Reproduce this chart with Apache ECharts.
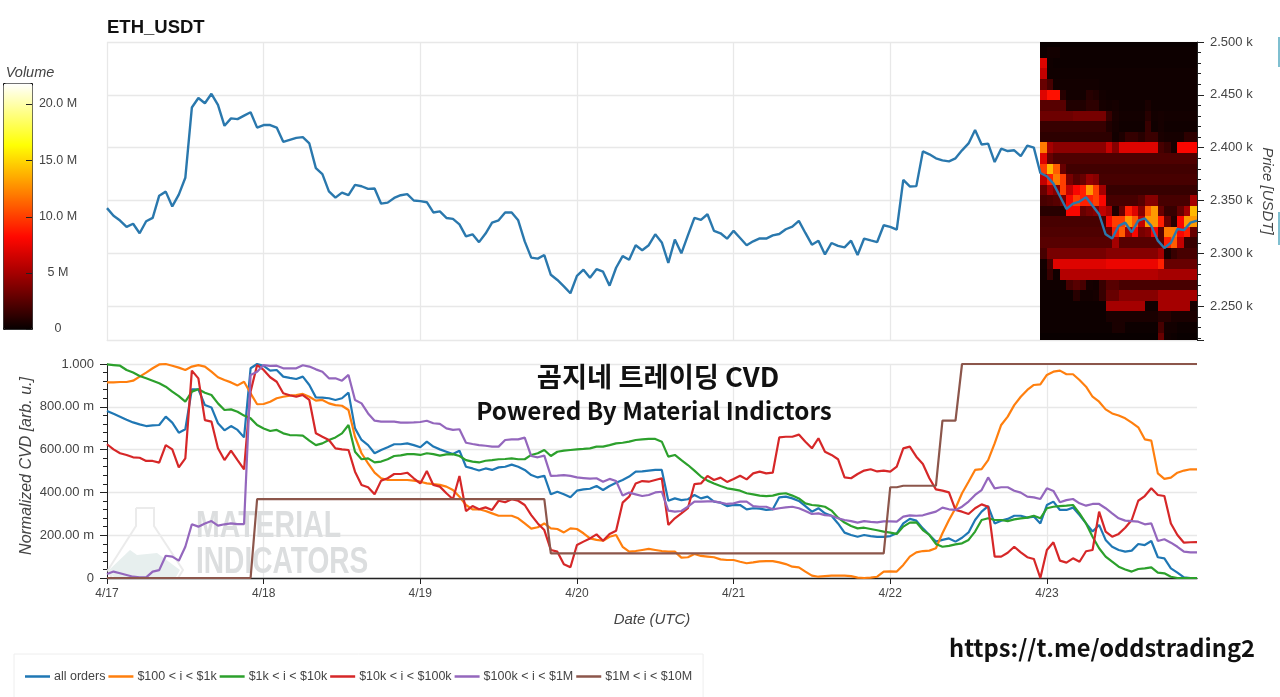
<!DOCTYPE html>
<html><head><meta charset="utf-8">
<style>html,body{margin:0;padding:0;background:#fff}#c{width:1280px;height:697px}</style>
<script src="https://cdn.jsdelivr.net/npm/echarts@6/dist/echarts.min.js"></script>
</head><body><div id="c"></div>
<script>
// Hourly samples, starting at 4/17 00:00 UTC
const dateTicks = ['4/17','4/18','4/19','4/20','4/21','4/22','4/23'];
const dateTickHours = [0,24,48,72,96,120,144];
const priceTickValues = [2250,2300,2350,2400,2450,2500];
const priceTickLabels = ['2.250 k','2.300 k','2.350 k','2.400 k','2.450 k','2.500 k'];
const cvdTickValues = [0,0.2,0.4,0.6,0.8,1];
const cvdTickLabels = ['0','200.00 m','400.00 m','600.00 m','800.00 m','1.000'];
const volumeTickValues = [0,5,10,15,20];
const volumeTickLabels = ['0','5 M','10.0 M','15.0 M','20.0 M'];
const legendNames = ['all orders','$100 < i < $1k','$1k < i < $10k','$10k < i < $100k','$100k < i < $1M','$1M < i < $10M'];

const price = [2342.8,2335.5,2331,2325,2328,2319,2330.4,2333.6,2354.6,2358.4,2344.4,2355.6,2371.5,2438,2447,2442,2451,2440.5,2420.7,2427.7,2427,2430.3,2433.5,2419,2421.4,2421.4,2419,2405.5,2407.4,2409.3,2410,2404,2380.7,2375,2358.7,2352.7,2357.5,2355,2364.8,2363.5,2361,2361.3,2347,2348,2352.4,2355,2356,2350,
2349.4,2348.4,2338.7,2339.7,2333.5,2332.6,2327.4,2316,2318,2310.6,2318.7,2329,2331.3,2338.7,2338.7,2331.3,2311.3,2296,2295,2298.4,2279.7,2274.8,2268.7,2262.2,2278.7,2284.5,2277,2285,2282.6,2269.4,2286.4,2297.4,2294,2307.7,2303,2307.7,2318,2310.3,2291,2313,2300,2317,2333.5,2331.6,2337,2321.3,2319,2313.9,2321.3,2314.5,2307.7,
2311.4,2314.2,2314,2317,2318.3,2322.8,2325.3,2330.7,2319.3,2308.2,2312,2299,2309.8,2307,2305.7,2312,2298.4,2314,2312.3,2310.7,2326.6,2325,2322.5,2369.6,2363.3,2363.6,2396.5,2393.7,2389.9,2388,2387,2389.9,2397.5,2404,2416.8,2403,2403.8,2386.4,2399,2396.8,2397.5,2392,2402,2400,2376,
2373,2366,2354,2342,2347,2349,2353,2345,2337,2318,2314,2326,2329,2320,2331,2333,2326,2312,2305,2310,2323,2322,2329,2331];

const cvdAll = [.780,.767,.754,.740,.727,.718,.710,.713,.715,.754,.726,.679,.695,.882,.882,.808,.797,.723,.690,.710,.692,.657,.980,1,.991,.969,.972,.941,.935,.930,.941,.902,.844,.843,.840,.832,.840,.866,.699,.645,.621,.583,.598,.611,.625,.625,.629,.621,
.611,.637,.614,.601,.590,.579,.595,.520,.512,.502,.512,.505,.517,.520,.530,.520,.505,.481,.470,.478,.391,.403,.391,.377,.408,.414,.417,.430,.411,.430,.445,.458,.474,.497,.498,.502,.505,.505,.361,.372,.364,.368,.388,.372,.380,.357,.352,.336,.341,.341,.321,.326,.324,.318,.321,.377,.380,.372,.36,.336,
.310,.326,.302,.291,.255,.212,.201,.193,.201,.196,.192,.192,.196,.209,.255,.276,.268,.232,.201,.170,.178,.185,.170,.188,.213,.271,.310,.336,.255,.268,.276,.291,.291,.282,.287,.255,.341,.357,.318,.318,.329,.294,.255,.217,.248,.178,.146,.131,.123,.128,.159,.154,.173,.097,.092,.045,.025,.003,0,0];
const cvd100 = [.914,.914,.916,.916,.922,.941,.960,.980,.998,1,.992,.983,.972,.988,.995,.988,.964,.938,.925,.914,.900,.917,.863,.812,.813,.824,.840,.847,.852,.855,.860,.847,.829,.832,.816,.808,.805,.785,.660,.583,.536,.492,.466,.458,.458,.458,.458,.455,
.450,.442,.439,.435,.427,.411,.380,.341,.321,.321,.313,.302,.291,.291,.291,.279,.255,.231,.237,.255,.232,.229,.213,.232,.229,.209,.185,.178,.174,.193,.201,.146,.123,.126,.131,.136,.131,.126,.123,.123,.095,.097,.112,.103,.100,.097,.087,.084,.084,.076,.069,.073,.078,.079,.079,.073,.065,.053,.050,.030,
.011,.006,.009,.011,.011,.011,.009,.002,0,.002,.006,.030,.031,.030,.061,.100,.120,.126,.128,.139,.209,.271,.326,.396,.450,.505,.509,.551,.629,.715,.754,.808,.847,.879,.902,.905,.949,.964,.969,.952,.952,.925,.894,.847,.824,.788,.769,.759,.746,.726,.704,.648,.642,.489,.463,.469,.492,.502,.508,.508];
const cvd1k = [.998,.995,.992,.972,.960,.944,.933,.922,.910,.894,.871,.850,.824,.871,.882,.866,.855,.816,.785,.788,.777,.759,.746,.715,.699,.687,.692,.676,.668,.667,.665,.642,.621,.629,.645,.657,.676,.715,.590,.555,.559,.540,.544,.555,.570,.573,.579,.579,
.575,.583,.579,.572,.578,.579,.570,.551,.544,.540,.548,.551,.555,.556,.559,.555,.555,.575,.583,.598,.570,.590,.595,.598,.601,.603,.606,.614,.614,.621,.629,.632,.637,.645,.648,.650,.650,.637,.567,.575,.551,.528,.502,.474,.455,.442,.430,.419,.414,.408,.396,.391,.385,.383,.385,.393,.396,.385,.372,.349,
.341,.338,.333,.315,.282,.259,.243,.232,.235,.229,.223,.217,.212,.206,.240,.259,.260,.224,.201,.159,.146,.150,.157,.162,.178,.217,.271,.279,.271,.271,.266,.274,.279,.282,.291,.279,.326,.333,.336,.338,.341,.302,.255,.193,.139,.100,.076,.053,.040,.030,.042,.045,.050,.025,.022,.006,0,0,0,0];
const cvd10k = [.625,.601,.583,.575,.564,.562,.547,.547,.539,.621,.601,.517,.559,.969,.933,.738,.731,.606,.551,.595,.551,.508,.871,.995,.972,.938,.917,.863,.854,.847,.855,.832,.676,.660,.645,.606,.601,.598,.497,.435,.424,.391,.455,.466,.486,.486,.492,.466,
.442,.500,.435,.427,.396,.368,.477,.313,.336,.321,.330,.318,.361,.354,.368,.361,.341,.294,.255,.224,.131,.123,.064,.050,.154,.170,.185,.204,.174,.206,.221,.352,.380,.442,.453,.450,.458,.466,.248,.279,.302,.326,.439,.442,.477,.458,.469,.449,.463,.478,.461,.489,.497,.489,.492,.657,.660,.660,.670,.637,
.606,.653,.590,.575,.555,.470,.466,.486,.502,.508,.498,.502,.497,.520,.606,.614,.567,.533,.466,.414,.408,.400,.318,.310,.299,.326,.344,.333,.100,.100,.118,.146,.120,.097,.089,0,.131,.167,.081,.072,.092,.076,.125,.131,.310,.217,.193,.206,.235,.271,.361,.383,.419,.388,.383,.255,.201,.165,.167,.168];
const cvd100k = [.019,.030,.022,.014,.006,.003,.003,.030,.037,.104,.100,.081,.146,.251,.240,.255,.266,.245,.251,.255,.252,.252,.949,.964,.995,.991,.992,.980,.980,.980,.994,.988,.975,.964,.933,.933,.922,.949,.832,.816,.769,.735,.731,.731,.731,.726,.726,.727,
.729,.735,.723,.720,.699,.692,.695,.632,.626,.621,.618,.614,.614,.645,.648,.648,.656,.570,.564,.572,.477,.478,.481,.477,.470,.467,.464,.466,.450,.463,.453,.385,.399,.391,.383,.388,.400,.403,.315,.310,.313,.333,.357,.357,.358,.358,.352,.346,.349,.357,.357,.336,.333,.333,.321,.326,.330,.333,.326,.313,
.299,.302,.294,.291,.279,.271,.266,.259,.266,.262,.260,.265,.265,.263,.287,.293,.291,.293,.302,.310,.329,.321,.318,.333,.357,.388,.411,.470,.419,.424,.424,.408,.399,.380,.377,.369,.419,.407,.354,.364,.369,.349,.338,.346,.346,.326,.302,.279,.268,.266,.263,.251,.255,.173,.181,.165,.146,.123,.120,.120];
const cvd1M = [0,0,0,0,0,0,0,0,0,0,0,0,0,0,0,0,0,0,0,0,0,0,0,.369,.369,.369,.369,.369,.369,.369,.369,.369,.369,.369,.369,.369,.369,.369,.369,.369,.369,.369,.369,.369,.369,.369,.369,.369,
.369,.369,.369,.369,.369,.369,.369,.369,.369,.369,.369,.369,.369,.369,.369,.369,.369,.369,.369,.369,.115,.115,.115,.115,.115,.115,.115,.115,.115,.115,.115,.115,.115,.115,.115,.115,.115,.115,.115,.115,.115,.115,.115,.115,.115,.115,.115,.115,.115,.115,.115,.115,.115,.115,.115,.115,.115,.115,.115,.115,
.115,.115,.115,.115,.115,.115,.115,.115,.115,.115,.115,.115,.424,.424,.431,.431,.431,.431,.431,.431,.735,.735,.735,1,1,1,1,1,1,1,1,1,1,1,1,1,1,1,1,1,1,1,1,1,1,1,1,1,1,1,1,1,1,1,1,1,1,1,1,1];

// Order-book heat map: volume (M) per 10 USD price bin, one column per hour from 4/22 23:00
const heatStartHour = 143;
const heatPrices = [2500,2490,2480,2470,2460,2450,2440,2430,2420,2410,2400,2390,2380,2370,2360,2350,2340,2330,2320,2310,2300,2290,2280,2270,2260,2250,2240,2230,2220];
const heatVolumes = [
[.1,.1,.1,.1,.1,.1,.1,.1,.1,.1,.1,.1,.1,.1,.1,.1,.1,.1,.1,.1,.1,.1,.1,.1],
[.2,.4,.4,.2,.2,.2,.2,.2,.2,.2,.2,.2,.2,.2,.2,.2,.2,.2,.2,.2,.2,.2,.2,.2],
[7,.3,.2,.2,.2,.2,.2,.2,.2,.2,.2,.2,.2,.2,.2,.2,.2,.2,.2,.2,.2,.2,.2,.2],
[6,.3,.3,.3,.3,.3,.3,.3,.3,.3,.3,.3,.3,.3,.3,.3,.3,.3,.3,.3,.3,.3,.3,.3],
[3,2,.4,.4,.4,.4,.4,.4,.4,.3,.3,.3,.3,.3,.3,.3,.3,.3,.3,.3,.3,.3,.3,.3],
[7,8.5,8.5,1,.4,.4,.4,1,.8,.4,.3,.3,.3,.3,.3,.3,.3,.3,.3,.3,.3,.3,.3,.3],
[2.5,2.5,2.5,2.5,.8,.8,.8,1.2,1.2,.5,.4,.5,.3,.3,.3,.3,.6,.3,.3,.3,.3,.3,.3,.3],
[3.2,3.2,3.2,3.2,3.2,3.5,3.5,3.5,3.5,3.5,1.5,.6,.4,.4,.4,.4,1,.4,.5,.4,.4,.4,.4,.4],
[1.5,1.5,1.5,1.5,1.5,1.5,1.5,1.5,1.5,1.5,.8,.5,.3,.3,.3,.3,1.5,.3,.5,.3,.3,.3,.3,.3],
[1.2,1.2,1.2,1.2,1.2,1.2,1.2,1.2,1.2,1.2,1.2,.4,.7,1.4,1.4,1,1.6,1.6,.6,.5,.5,.5,1.2,1.2],
[12,5,4.2,4.2,4.2,4.2,4.2,4.2,4.2,4.2,6,4,7,7,7,7,7,7,2,1.5,.5,8,8,8],
[7,3,2.2,2.2,2.2,2.2,2.2,2.2,2.2,2.2,2.2,2.2,2.2,2.2,2.2,2.2,2.2,2.2,2.2,2.2,2.2,2.2,2.2,2.2],
[10,14,11,3,1.8,1.8,1.8,1.8,1.8,1.8,1.8,1.8,1.8,1.8,1.8,1.8,1.8,1.8,1.8,1.8,1.8,1.8,1.8,1.8],
[6,9,12,10,3.5,2.5,3,4.5,4,2,2,2,2,2,2,2,2,2,2,2,2,2,2,2],
[3,5,4,10,6,8,9,13,10,5,1.5,1.5,1.5,1.5,1.5,1.5,1.5,1.5,1.5,1.5,1.5,1.5,1.5,1.5],
[2,2.2,2.5,3.5,8,10,9,9,10,8,2,2,2,2,2,2.5,4,4,2,2,2,2,2,5],
[1,1,1,1,8,8,3,3.5,4,6,5,.8,3,9,7,4,11,13,3,1.5,1.5,3,5,14],
[2,2,2,2,2,2,2,2,2,2,8,10,10,13,11,6,13,13,9,3,1,8,13,13],
[2.2,2.2,2.2,2.2,2.2,2.2,2.2,2.2,2.2,2.2,3,9,11,5,8,3.5,4,8,2.5,12,12,8,9,3],
[2.5,2.5,2.5,2.5,2.5,2.5,2.5,2.5,2.5,2.5,2.5,5,2.5,2.5,2.5,2.5,2.5,2.5,2.5,9,11,6,1.5,1.5],
[2,3.5,3.5,3.5,3.5,3.5,3.5,3.5,3.5,3.5,4,4,4,4,4,4,4,4,5,.6,1.5,2,2,2],
[.4,2,7,7,7,7,7,7,7,7,7.5,7.5,7.5,7.5,7.5,7.5,7.5,7.5,9,3,3,3,3,3],
[.3,1.5,.3,5.5,5.5,5.5,5.5,5.5,5.5,5.5,5.5,5.5,5.5,5.5,5.5,5.5,5.5,5.5,5,5,5,5,5,5],
[.3,.3,.3,.3,2,2.5,2,.5,.4,1.5,2.5,2.5,2,2,2,2,2,2,2,2,2,2,2,2],
[.2,.2,.2,.2,.2,1,.4,.4,.5,1.5,3,3,4,4,4,4,4,4,5,5,5,5,5,5],
[.2,.2,.2,.2,.2,.2,.2,.2,.2,.2,5,5,5,5,5,5,.3,.3,5,5,5,5,5,.5],
[.2,.2,.2,.2,.2,.2,.2,.2,.2,.2,.6,.6,.6,.6,.6,.6,.6,.6,1,1,.6,.6,.6,.6],
[.2,.2,.2,.2,.2,.2,.2,.2,.2,.2,.2,.6,.6,.2,.2,.2,.2,.2,2,.4,.4,.2,.2,.2],
[.1,.1,.1,.1,.1,.1,.1,.1,.1,.1,.1,.1,.1,.1,.1,.1,.1,.1,3,.3,.2,.1,.1,.1]
];

const hotColors = ['#060000','#5f0000','#b30000','#ff0700','#ff5a00','#ffae00','#ffff04','#ffff80','#ffffff'];
const lineColors = ['#1f77b4','#ff7f0e','#2ca02c','#d62728','#9467bd','#8c564b'];
const cvdSeries = [cvdAll,cvd100,cvd1k,cvd10k,cvd100k,cvd1M];
const txt = '#444444', gridC = '#e8e8e8', FF = '"Liberation Sans",Arial,sans-serif';

const heatData = [];
heatPrices.forEach((p,r)=>heatVolumes[r].forEach((v,c)=>heatData.push([heatStartHour+c,p,v])));
const lookup=(vals,labs)=>v=>{const i=vals.findIndex(t=>Math.abs(t-v)<1e-6);return i<0?'':labs[i];};
const withHours = a => a.map((v,i)=>[i,v]);

const chart = echarts.init(document.getElementById('c'),null,{renderer:'canvas'});
chart.setOption({
  animation:false, backgroundColor:'#fff', textStyle:{fontFamily:FF},
  title:{text:'ETH_USDT',left:107,top:18,padding:0,textStyle:{fontSize:18.5,fontWeight:'bold',color:'#111',fontFamily:FF}},
  grid:[
    {left:107,top:42,width:1090,height:298,outerBoundsMode:'none'},
    {left:107,top:364,width:1090,height:214,outerBoundsMode:'none'},
    {left:3,top:83,width:29,height:246,outerBoundsMode:'none'}
  ],
  xAxis:[
    {gridIndex:0,type:'value',min:0,max:167,interval:24,
     axisLabel:{show:false,customValues:dateTickHours},axisTick:{show:false,customValues:dateTickHours},
     axisLine:{show:true,onZero:false,lineStyle:{color:gridC}},splitLine:{show:true,lineStyle:{color:gridC,width:1.3}}},
    {gridIndex:1,type:'value',min:0,max:167,interval:24,name:'Date (UTC)',nameLocation:'middle',nameGap:34,
     nameTextStyle:{fontStyle:'italic',fontSize:15,color:txt,fontFamily:FF},
     axisLabel:{color:txt,fontSize:12,margin:10,fontFamily:FF,customValues:dateTickHours,formatter:lookup(dateTickHours,dateTicks)},
     axisTick:{show:true,length:6,lineStyle:{color:'#222'},customValues:dateTickHours},
     axisLine:{show:true,onZero:false,lineStyle:{color:'#222',width:1.3}},splitLine:{show:true,lineStyle:{color:gridC,width:1.3}}},
    {gridIndex:2,type:'value',min:0,max:1,show:false}
  ],
  yAxis:[
    {gridIndex:0,type:'value',position:'right',min:2218,max:2500,splitNumber:6,name:'Price [USDT]',nameLocation:'middle',nameRotate:-90,nameGap:63,nameMoveOverlap:false,
     nameTextStyle:{fontStyle:'italic',fontSize:15,color:txt,fontFamily:FF},
     axisLabel:{color:txt,fontSize:13,margin:13,fontFamily:FF,showMinLabel:false,formatter:lookup(priceTickValues,priceTickLabels)},
     axisLine:{show:true,onZero:false,lineStyle:{color:'#222'}},axisTick:{show:true,length:7,lineStyle:{color:'#222'}},
     minorTick:{show:true,splitNumber:5,length:4,lineStyle:{color:'#222'}},
     splitLine:{show:true,lineStyle:{color:gridC,width:1.3}}},
    {gridIndex:1,type:'value',min:0,max:1,interval:0.2,name:'Normalized CVD [arb. u.]',nameLocation:'middle',nameGap:72,nameMoveOverlap:false,
     nameTextStyle:{fontStyle:'italic',fontSize:16,color:txt,fontFamily:FF,padding:[0,0,0,10]},
     axisLabel:{color:txt,fontSize:13,margin:13,fontFamily:FF,formatter:lookup(cvdTickValues,cvdTickLabels)},
     axisLine:{show:true,onZero:false,lineStyle:{color:'#222'}},axisTick:{show:true,length:7,lineStyle:{color:'#222'}},
     minorTick:{show:true,splitNumber:5,length:4,lineStyle:{color:'#222'}},
     splitLine:{show:true,lineStyle:{color:gridC,width:1.3}}},
    {gridIndex:2,type:'value',position:'right',min:0,max:21.87,interval:5,name:'Volume',nameLocation:'end',nameGap:3,
     nameTextStyle:{fontStyle:'italic',fontSize:14.5,color:txt,fontFamily:FF,verticalAlign:'bottom',padding:[0,4,0,0]},
     axisLabel:{color:txt,fontSize:12.5,margin:26,align:'center',fontFamily:FF,formatter:lookup(volumeTickValues,volumeTickLabels)},
     axisLine:{show:false,onZero:false},axisTick:{show:false},splitLine:{show:false}}
  ],
  visualMap:{type:'continuous',seriesIndex:0,dimension:2,min:0,max:21.87,left:3,top:83,itemWidth:29,itemHeight:246,
    padding:0,borderColor:'#111',borderWidth:1,calculable:false,hoverLink:false,text:null,showLabel:false,
    inRange:{color:hotColors}},
  legend:{left:14,top:654,padding:[16,11,15,11],borderColor:'#eeeeee',borderWidth:1,itemGap:3,itemWidth:25,itemHeight:2.5,
    icon:'rect',textStyle:{fontSize:12.5,color:'#444',fontFamily:FF,padding:[0,0,0,-1]},data:legendNames,selectedMode:false},
  series:[
    {type:'custom',name:'heat',xAxisIndex:0,yAxisIndex:0,z:2,silent:true,data:heatData,encode:{x:0,y:1},
     renderItem:(params,api)=>{
       const a=api.coord([api.value(0),api.value(1)+5]), b=api.coord([api.value(0)+1,api.value(1)-5]);
       const s=params.coordSys;
       const x0=Math.round(a[0]),x1=Math.round(b[0]),y0=Math.round(a[1]),y1=Math.round(b[1]);
       const rect=echarts.graphic.clipRectByRect({x:x0,y:y0,width:x1-x0,height:y1-y0},{x:s.x,y:s.y,width:s.width,height:s.height});
       if(!rect) return null;
       return {type:'rect',shape:rect,style:{fill:api.visual('color')}};
     }},
    {type:'line',name:'price',xAxisIndex:0,yAxisIndex:0,z:3,silent:true,data:withHours(price),showSymbol:false,symbol:'none',lineStyle:{color:'#2a78ad',width:2.4}},
    ...cvdSeries.map((d,i)=>({type:'line',name:legendNames[i],xAxisIndex:1,yAxisIndex:1,z:3+i,silent:true,data:withHours(d),showSymbol:false,symbol:'none',color:lineColors[i],itemStyle:{color:lineColors[i]},lineStyle:{color:lineColors[i],width:2.2},clip:false}))
  ]
});
// Colour-bar ticks and overlay artwork; tick positions come from the colour-bar axis
const colorbarTicks = volumeTickValues.map(v=>{
  const y = Math.round(chart.convertToPixel({yAxisIndex:2},v))+0.5;
  const x = chart.convertToPixel({xAxisIndex:2},1);
  return {type:'line',z:100,silent:true,shape:{x1:x-6,y1:y,x2:x,y2:y},style:{stroke:'#222',lineWidth:1}};
});
chart.setOption({graphic:{elements:[
    {type:'polygon',z:1,silent:true,shape:{points:[[108,571],[130,550],[137,555],[157,553],[180,570],[176,577],[114,577]]},style:{fill:'#e7efee'}},
    {type:'polyline',z:1,silent:true,shape:{points:[[136,508],[154,508],[154,526],[183,570],[178,578],[112,578],[108,570],[136,526],[136,508]]},style:{stroke:'#ebebeb',fill:'none',lineWidth:2}},
    {type:'text',z:1,silent:true,x:196,y:508,scaleX:0.77,style:{text:'MATERIAL',fill:'#dcdedf',font:'bold 37px "Liberation Sans"'}},
    {type:'text',z:1,silent:true,x:196,y:544,scaleX:0.76,style:{text:'INDICATORS',fill:'#dcdedf',font:'bold 37px "Liberation Sans"'}},
    {type:'text',z:100,silent:true,x:658,y:377,style:{text:'곰지네 트레이딩 CVD',fill:'#111',align:'center',verticalAlign:'middle',font:'bold 27.3px "Noto Sans CJK KR"'}},
    {type:'text',z:100,silent:true,x:654,y:411,style:{text:'Powered By Material Indictors',fill:'#111',align:'center',verticalAlign:'middle',font:'bold 24.2px "Noto Sans CJK KR"'}},
    {type:'text',z:100,silent:true,x:1255,y:648,style:{text:'https://t.me/oddstrading2',fill:'#111',align:'right',verticalAlign:'middle',font:'bold 23.7px "Noto Sans CJK KR"'}},
    {type:'rect',z:100,silent:true,shape:{x:1278,y:37,width:2,height:30},style:{fill:'#7fbfd0'}},
    {type:'rect',z:100,silent:true,shape:{x:1278,y:212,width:2,height:33},style:{fill:'#7fbfd0'}},
    ...colorbarTicks
]}});
</script></body></html>
